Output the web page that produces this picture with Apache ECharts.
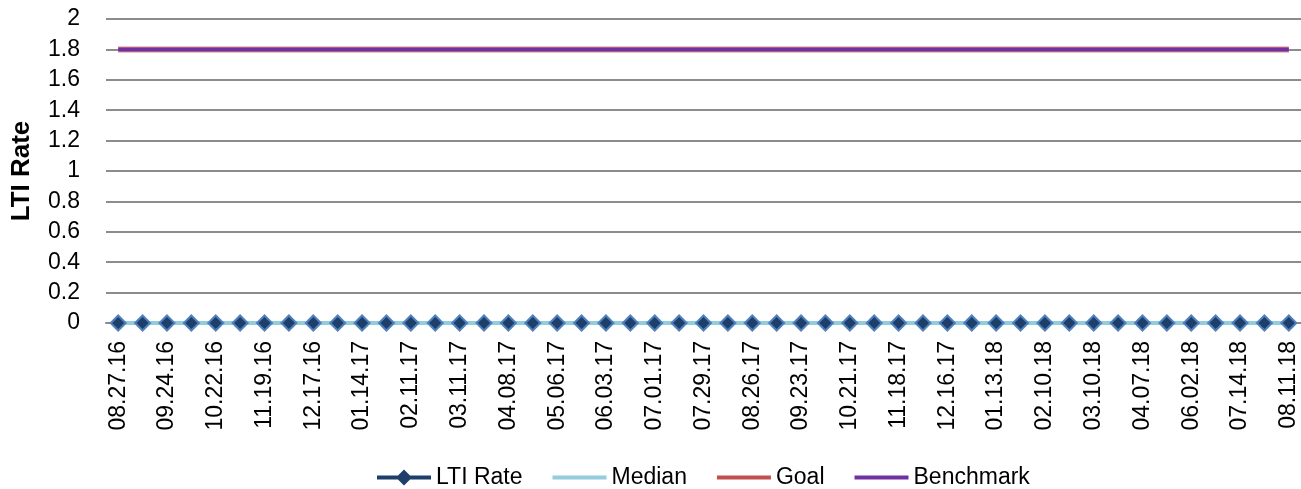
<!DOCTYPE html>
<html>
<head>
<meta charset="utf-8">
<script src="https://cdn.jsdelivr.net/npm/echarts@6/dist/echarts.min.js"></script>
<style>
html,body{margin:0;padding:0;background:#fff;}
#chart{width:1301px;height:489px;}
</style>
</head>
<body>
<div id="chart"></div>
<script>
const categories = [
  '08.27.16','09.10.16','09.24.16','10.08.16','10.22.16','11.05.16','11.19.16','12.03.16',
  '12.17.16','12.31.16','01.14.17','01.28.17','02.11.17','02.25.17','03.11.17','03.25.17',
  '04.08.17','04.22.17','05.06.17','05.20.17','06.03.17','06.17.17','07.01.17','07.15.17',
  '07.29.17','08.12.17','08.26.17','09.09.17','09.23.17','10.07.17','10.21.17','11.04.17',
  '11.18.17','12.02.17','12.16.17','12.30.17','01.13.18','01.27.18','02.10.18','02.24.18',
  '03.10.18','03.24.18','04.07.18','05.05.18','06.02.18','06.30.18','07.14.18','07.28.18',
  '08.11.18'
];
const ltiRate = [
  0,0,0,0,0,0,0,0, 0,0,0,0,0,0,0,0, 0,0,0,0,0,0,0,0,
  0,0,0,0,0,0,0,0, 0,0,0,0,0,0,0,0, 0,0,0,0,0,0,0,0, 0
];
const median = [
  0,0,0,0,0,0,0,0, 0,0,0,0,0,0,0,0, 0,0,0,0,0,0,0,0,
  0,0,0,0,0,0,0,0, 0,0,0,0,0,0,0,0, 0,0,0,0,0,0,0,0, 0
];
const goal = [
  1.8,1.8,1.8,1.8,1.8,1.8,1.8,1.8, 1.8,1.8,1.8,1.8,1.8,1.8,1.8,1.8,
  1.8,1.8,1.8,1.8,1.8,1.8,1.8,1.8, 1.8,1.8,1.8,1.8,1.8,1.8,1.8,1.8,
  1.8,1.8,1.8,1.8,1.8,1.8,1.8,1.8, 1.8,1.8,1.8,1.8,1.8,1.8,1.8,1.8, 1.8
];
const benchmark = [
  1.8,1.8,1.8,1.8,1.8,1.8,1.8,1.8, 1.8,1.8,1.8,1.8,1.8,1.8,1.8,1.8,
  1.8,1.8,1.8,1.8,1.8,1.8,1.8,1.8, 1.8,1.8,1.8,1.8,1.8,1.8,1.8,1.8,
  1.8,1.8,1.8,1.8,1.8,1.8,1.8,1.8, 1.8,1.8,1.8,1.8,1.8,1.8,1.8,1.8, 1.8
];
const yTicks = { min: 0, max: 2, interval: 0.2 };

const FONT = "'Liberation Sans', Arial, sans-serif";
const LINE_ICON = 'path://M0,0 L54,0 L54,4 L0,4 Z';
const chart = echarts.init(document.getElementById('chart'), null, { renderer: 'canvas' });
chart.setOption({
  animation: false,
  backgroundColor: '#ffffff',
  textStyle: { fontFamily: FONT, color: '#000' },
  grid: { left: 106, right: -4, top: 19, bottom: 166, containLabel: false },
  legend: {
    top: 461,
    left: 372,
    itemWidth: 54,
    itemHeight: 16,
    itemGap: 30,
    symbolKeepAspect: true,
    textStyle: { fontFamily: FONT, fontSize: 23, color: '#000', padding: [0, 0, 0, 0] },
    data: [
      { name: 'LTI Rate', icon: 'path://M0,6 L21,6 L27,0 L33,6 L54,6 L54,10 L33,10 L27,16 L21,10 L0,10 Z',
        itemStyle: { color: '#1F3F6B', borderColor: '#1F3F6B', borderWidth: 0 } },
      { name: 'Median', icon: LINE_ICON, itemStyle: { color: '#93CDDD', borderWidth: 0 } },
      { name: 'Goal', icon: LINE_ICON, itemStyle: { color: '#C0504D', borderWidth: 0 } },
      { name: 'Benchmark', icon: LINE_ICON, itemStyle: { color: '#7030A0', borderWidth: 0 } }
    ]
  },
  xAxis: {
    type: 'category',
    data: categories,
    boundaryGap: true,
    axisLine: { show: true, lineStyle: { color: '#8c8c8c', width: 2 } },
    axisTick: { show: false },
    axisLabel: {
      interval: 1,
      rotate: 90,
      margin: 18,
      fontFamily: FONT,
      fontSize: 23,
      color: '#000'
    },
    splitLine: { show: false }
  },
  yAxis: {
    type: 'value',
    min: yTicks.min,
    max: yTicks.max,
    interval: yTicks.interval,
    name: 'LTI Rate',
    nameLocation: 'middle',
    nameGap: 71,
    nameMoveOverlap: false,
    nameTextStyle: { fontFamily: FONT, fontSize: 26, fontWeight: 'bold', color: '#000' },
    axisLine: { show: false },
    axisTick: { show: false },
    axisLabel: {
      fontFamily: FONT,
      fontSize: 23,
      color: '#000',
      margin: 26,
      formatter: function (v) { return String(Math.round(v * 10) / 10); }
    },
    splitLine: { show: true, lineStyle: { color: '#8c8c8c', width: 2 } }
  },
  series: [
    {
      name: 'LTI Rate',
      type: 'line',
      data: ltiRate,
      symbol: 'diamond',
      symbolSize: 15,
      showAllSymbol: true,
      itemStyle: { color: '#1F3F6B', borderColor: '#4F81BD', borderWidth: 2 },
      lineStyle: { color: '#17375E', width: 4 }
    },
    {
      name: 'Median',
      type: 'line',
      data: median,
      symbol: 'none',
      itemStyle: { color: '#93CDDD' },
      lineStyle: { color: '#93CDDD', width: 4 }
    },
    {
      name: 'Goal',
      type: 'line',
      data: goal,
      symbol: 'none',
      itemStyle: { color: '#C0504D' },
      lineStyle: { color: '#E0868A', width: 6 }
    },
    {
      name: 'Benchmark',
      type: 'line',
      data: benchmark,
      symbol: 'none',
      itemStyle: { color: '#7030A0' },
      lineStyle: { color: '#7030A0', width: 4 }
    }
  ]
});
</script>
</body>
</html>
